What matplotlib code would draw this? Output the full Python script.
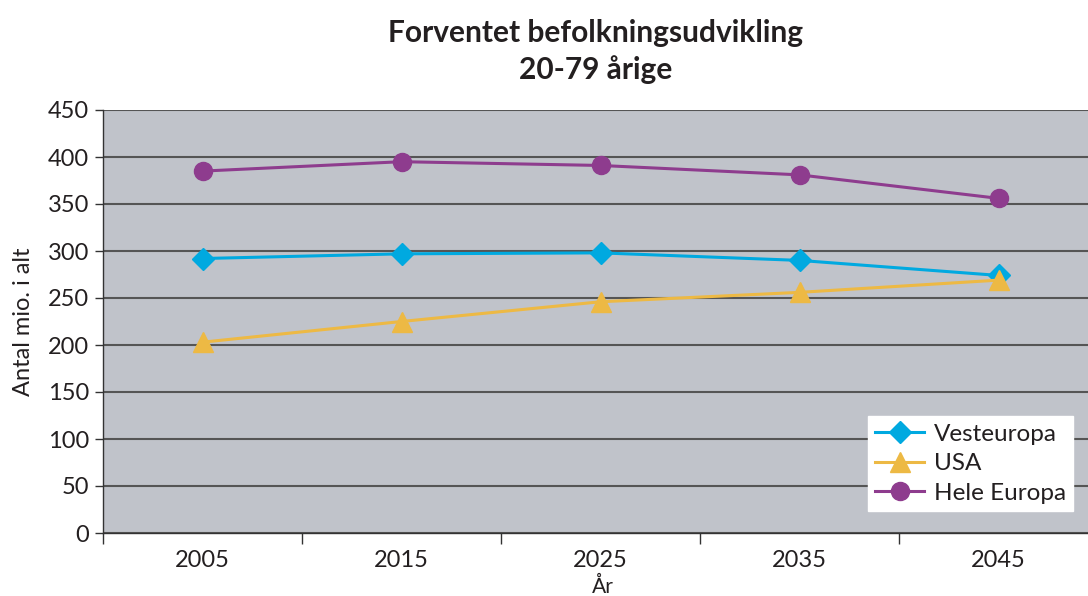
import matplotlib
matplotlib.use("Agg")
import matplotlib.pyplot as plt

years = ["2005", "2015", "2025", "2035", "2045"]
vesteuropa = [292, 297, 298, 290, 274]
usa = [203, 225, 246, 256, 269]
hele_europa = [385, 395, 391, 381, 356]
yticks = [0, 50, 100, 150, 200, 250, 300, 350, 400, 450]

txt = "#231F20"
plt.rcParams['font.family'] = ['Lato', 'DejaVu Sans']

fig = plt.figure(figsize=(10.88, 5.96), dpi=100)
ax = fig.add_axes([103/1088, 63/596, 995/1088, 423/596])
ax.set_facecolor("#C0C3CA")

x = list(range(len(years)))
ax.plot(x, vesteuropa, color="#00A9E0", lw=2.2, marker="D", ms=11, label="Vesteuropa", zorder=3)
ax.plot(x, usa, color="#EDB944", lw=2.2, marker="^", ms=14, label="USA", zorder=3)
ax.plot(x, hele_europa, color="#8E3C8E", lw=2.2, marker="o", ms=13, label="Hele Europa", zorder=3)

ax.set_xlim(-0.5, len(years) - 0.5)
ax.set_ylim(0, 450)
ax.set_yticks(yticks)
ax.set_yticklabels([str(v) for v in yticks], fontsize=17, color=txt)
ax.set_xticks(x)
ax.set_xticklabels(years, fontsize=17, color=txt)
ax.set_xticks([i - 0.5 for i in range(len(years) + 1)], minor=True)
ax.tick_params(axis='x', which='major', length=0, pad=12)
ax.tick_params(axis='x', which='minor', length=8, width=1, color="#333333", direction='out')
ax.tick_params(axis='y', length=6, width=1, color="#333333", direction='out', pad=4)
ax.grid(axis='y', color="#555555", lw=1.5, zorder=1)
ax.set_axisbelow(True)
for s in ['top', 'right']:
    ax.spines[s].set_visible(False)
for s in ['left', 'bottom']:
    ax.spines[s].set_color("#333333")
    ax.spines[s].set_linewidth(1)

ax.set_ylabel("Antal mio. i alt", fontsize=17, color=txt, labelpad=10)
fig.text(603/1088, 1 - 587/596, "År", ha='center', va='center', fontsize=15, color=txt)

fig.text(596/1088, 1 - 33/596, "Forventet befolkningsudvikling", ha='center', va='center',
         fontsize=21.5, fontweight='bold', color=txt)
fig.text(596/1088, 1 - 70/596, "20-79 årige", ha='center', va='center',
         fontsize=21.5, fontweight='bold', color=txt)

leg = ax.legend(loc='lower left', bbox_to_anchor=(868/1088, 85/596),
                bbox_transform=fig.transFigure, frameon=True, fancybox=False,
                fontsize=17.5, handlelength=2.0, borderpad=0.3, labelspacing=0.35,
                handletextpad=0.4, borderaxespad=0)
leg.get_frame().set_facecolor("white")
leg.get_frame().set_edgecolor("white")
leg.get_frame().set_alpha(1)
for t in leg.get_texts():
    t.set_color(txt)

fig.savefig("out.png", dpi=100)
